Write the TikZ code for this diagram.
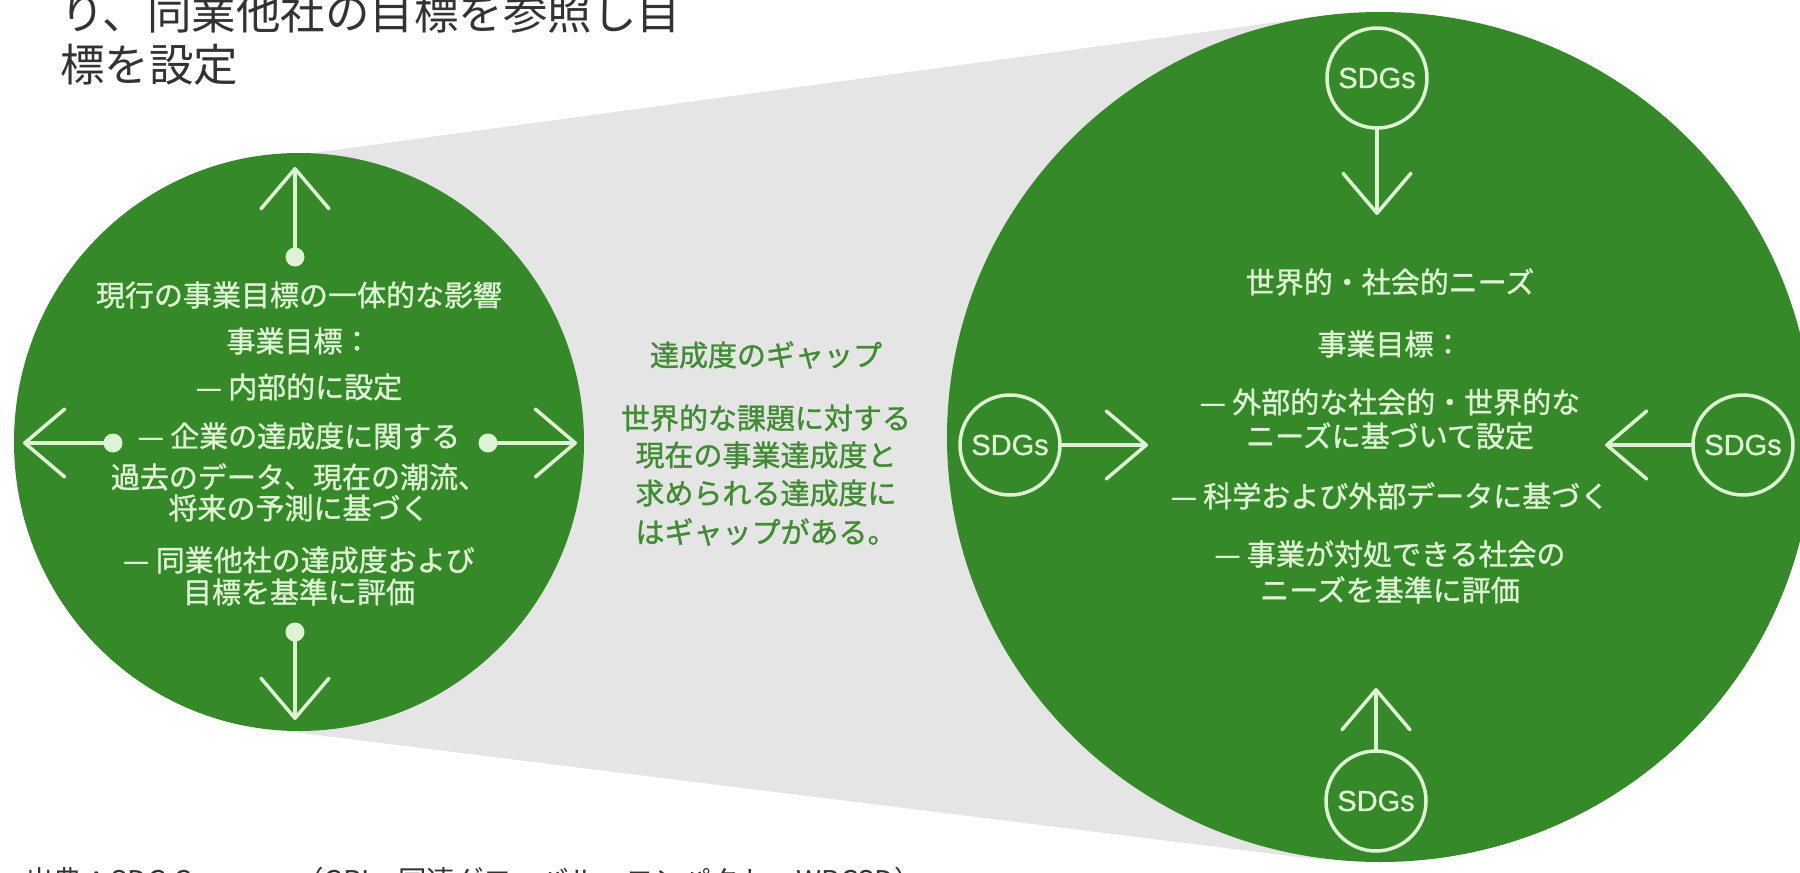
\documentclass[tikz,border=0pt]{standalone}
\usepackage{fontspec}
\newfontfamily\jp{Noto Sans CJK JP}
\newfontfamily\jpb[FakeBold=1.2]{Noto Sans CJK JP}
\newfontfamily\lsans[FakeBold=1]{Liberation Sans}
\usetikzlibrary{arrows.meta,shapes.geometric}
\definecolor{cgreen}{RGB}{53,137,41}
\definecolor{clight}{RGB}{222,242,212}
\definecolor{cgray}{RGB}{229,229,229}
\definecolor{cmid}{RGB}{64,140,50}
\definecolor{cdark}{RGB}{51,51,51}
\begin{document}
\begin{tikzpicture}[x=1pt,y=-1pt,
  ctext/.style={text=clight, font=\jpb\fontsize{29}{33}\selectfont, inner sep=0pt, anchor=center, text height=23pt, text depth=1pt},
  mtext/.style={ctext, text=cmid},
  toptext/.style={text=cdark, font=\jp\fontsize{44.5}{52}\selectfont, inner sep=0pt, anchor=base west},
  srctext/.style={text=cdark, font=\jp\fontsize{28.5}{34}\selectfont, inner sep=0pt, anchor=base west},
  sdg/.style={circle, draw=clight, line width=3.5pt, fill=cgreen, minimum size=100pt, inner sep=0pt, text=clight, font=\lsans\fontsize{29}{33}\selectfont},
  dotn/.style={circle, fill=clight, minimum size=19pt, inner sep=0pt},
  arr/.style={draw=clight, line width=3.5pt, line cap=round, -{Straight Barb[length=40pt,width=68pt,round]}},
  bigc/.style={ellipse, fill=cgreen, inner sep=0pt, draw=none},
]
\useasboundingbox (0,0) rectangle (1800,873);
\fill[white] (0,0) rectangle (1800,873);

% gray connecting band
\coordinate (a1) at (261,160);
\coordinate (b1) at (1322,16);
\coordinate (b2) at (1322,860);
\coordinate (a2) at (261,728);
\fill[cgray] (a1) -- (b1) -- (b2) -- (a2) -- cycle;

% big circles
\node[bigc, minimum width=570pt, minimum height=578pt] (L) at (299,442) {};
\node[bigc, minimum width=866pt, minimum height=850pt] (R) at (1380,437) {};

% top caption (cut off as in the source)
\node[toptext] (cap1) at (60,29) {り、同業他社の目標を参照し目};
\node[toptext] (cap2) at (60,81) {標を設定};

% left circle arrows
\node[dotn] (du) at (295,257) {};
\node[dotn] (dd) at (295,632) {};
\node[dotn] (dl) at (113,443) {};
\node[dotn] (dr) at (488,443) {};
\coordinate (tu) at (295,167);
\coordinate (td) at (295,720);
\coordinate (tl) at (23,443);
\coordinate (tr) at (577,443);
\draw[arr] (du) -- (tu);
\draw[arr] (dd) -- (td);
\draw[arr] (dl) -- (tl);
\draw[arr] (dr) -- (tr);

% left circle text
\node[ctext] (l1) at (299,295) {現行の事業目標の一体的な影響};
\node[ctext] (l2) at (299,341) {事業目標：};
\node[ctext] (l3) at (299,387) {— 内部的に設定};
\node[ctext] (l4) at (299,436) {— 企業の達成度に関する};
\node[ctext] (l5) at (299,477) {過去のデータ、現在の潮流、};
\node[ctext] (l6) at (299,508) {将来の予測に基づく};
\node[ctext] (l7) at (299,560) {— 同業他社の達成度および};
\node[ctext] (l8) at (299,592) {目標を基準に評価};

% middle text
\node[mtext] (m1) at (766,355) {達成度のギャップ};
\node[mtext] (m2) at (766,418) {世界的な課題に対する};
\node[mtext] (m3) at (766,455) {現在の事業達成度と};
\node[mtext] (m4) at (766,493) {求められる達成度に};
\node[mtext] (m5) at (766,532) {はギャップがある。};

% SDGs circles
\node[sdg] (st) at (1377,78) {SDGs};
\node[sdg] (sl) at (1010,445) {SDGs};
\node[sdg] (sr) at (1743,445) {SDGs};
\node[sdg] (sb) at (1376,801) {SDGs};
\coordinate (tst) at (1377,215);
\coordinate (tsl) at (1148,445);
\coordinate (tsr) at (1605,445);
\coordinate (tsb) at (1376,688);
\draw[arr] (st) -- (tst);
\draw[arr] (sl) -- (tsl);
\draw[arr] (sr) -- (tsr);
\draw[arr] (sb) -- (tsb);

% right circle text
\node[ctext] (r1) at (1390,282) {世界的・社会的ニーズ};
\node[ctext] (r2) at (1390,344) {事業目標：};
\node[ctext] (r3) at (1390,402) {— 外部的な社会的・世界的な};
\node[ctext] (r4) at (1390,436) {ニーズに基づいて設定};
\node[ctext] (r5) at (1390,496) {— 科学および外部データに基づく};
\node[ctext] (r6) at (1390,554) {— 事業が対処できる社会の};
\node[ctext] (r7) at (1390,590) {ニーズを基準に評価};

% source line (cut off as in the source)
\node[srctext] (src) at (25,891) {出典：SDG Compass（GRI、国連グローバル・コンパクト、WBCSD）};
\end{tikzpicture}
\end{document}
